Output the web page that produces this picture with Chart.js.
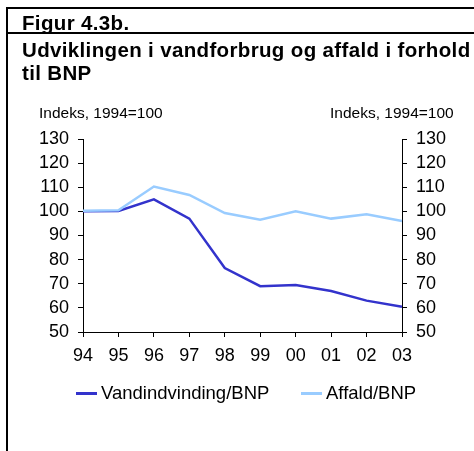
<!DOCTYPE html>
<html>
<head>
<meta charset="utf-8">
<script src="https://cdn.jsdelivr.net/npm/chart.js@4"></script>
<style>
  html, body { margin: 0; padding: 0; background: #fff; }
  body { width: 474px; height: 451px; position: relative; overflow: hidden;
         font-family: Arial, "Liberation Sans", sans-serif; color: #000; }
  #chart { position: absolute; left: 0; top: 0; }
  .hline { position: absolute; left: 6px; width: 470px; height: 2px; background: #000; }
  .vline { position: absolute; left: 6px; top: 7px; width: 2px; height: 450px; background: #000; }
  .titel { position: absolute; left: 22px; font-weight: bold; font-size: 20.5px;
           letter-spacing: 0.35px; line-height: 23px; white-space: nowrap; }
  .indeks { position: absolute; top: 104px; font-size: 15.5px; line-height: 18px; white-space: nowrap; }
  .leg { position: absolute; top: 382px; font-size: 18.5px; line-height: 22px; white-space: nowrap; }
  .leg span { display: inline-block; width: 21px; height: 3px; vertical-align: middle;
              margin-right: 4px; position: relative; top: -1px; }
</style>
</head>
<body>
<canvas id="chart" width="474" height="451"></canvas>
<div class="hline" style="top:7px"></div>
<div class="hline" style="top:32px"></div>
<div class="vline"></div>
<div class="titel" style="top:11px">Figur 4.3b.</div>
<div class="titel" style="top:38px">Udviklingen i vandforbrug og affald i forhold<br>til BNP</div>
<div class="indeks" style="left:39px">Indeks, 1994=100</div>
<div class="indeks" style="left:330px">Indeks, 1994=100</div>
<div id="legende"></div>
<script>
// år (akse-labels)
const aar = ['94', '95', '96', '97', '98', '99', '00', '01', '02', '03'];

// Indeks, 1994=100
const vandindvinding = [100, 100.2, 105, 97, 76.5, 69, 69.5, 67, 63, 60.5];
const affald = [100.3, 100.5, 110.3, 106.8, 99.3, 96.5, 100, 97, 98.8, 96];

const yMin = 50;
const yMax = 130;
const yStep = 10;

const navne = ['Vandindvinding/BNP', 'Affald/BNP'];
const farver = ['#3333CC', '#99CCFF'];

const tickFont = { family: 'Arial, "Liberation Sans", sans-serif', size: 18 };

const yAkse = function(pos) {
    return {
        position: pos,
        min: yMin,
        max: yMax,
        ticks: { stepSize: yStep, autoSkip: false, color: '#000', font: tickFont, padding: 9 },
        grid: { drawOnChartArea: false, drawTicks: true, tickLength: 5, color: '#000' },
        border: { color: '#000', width: 1 },
        afterFit: function(scale) {
            scale.width = pos === 'left' ? 83 : 72;
        }
    };
};

new Chart(document.getElementById('chart'), {
    type: 'line',
    data: {
        labels: aar,
        datasets: [{
            label: navne[0],
            data: vandindvinding,
            borderColor: farver[0],
            backgroundColor: farver[0],
            borderWidth: 2.5,
            pointRadius: 0,
            tension: 0,
            order: 1,
            yAxisID: 'y'
        }, {
            label: navne[1],
            data: affald,
            borderColor: farver[1],
            backgroundColor: farver[1],
            borderWidth: 2.5,
            pointRadius: 0,
            tension: 0,
            order: 0,
            yAxisID: 'y'
        }]
    },
    options: {
        responsive: false,
        animation: false,
        events: [],
        layout: { padding: { left: 0, right: 0, top: 139, bottom: 80 } },
        plugins: {
            legend: { display: false },
            tooltip: { enabled: false }
        },
        scales: {
            x: {
                offset: false,
                ticks: { color: '#000', font: tickFont, padding: 8, maxRotation: 0, autoSkip: false },
                grid: { drawOnChartArea: false, drawTicks: true, tickLength: 5, color: '#000' },
                border: { color: '#000', width: 1 },
                afterFit: function(scale) { scale.height = 39; }
            },
            y: yAkse('left'),
            y2: yAkse('right')
        }
    }
});

// Forklaring (legend) under grafen
const legende = document.getElementById('legende');
const legPos = [76, 301];
navne.forEach(function(navn, i) {
    const d = document.createElement('div');
    d.className = 'leg';
    d.style.left = legPos[i] + 'px';
    d.innerHTML = '<span style="background:' + farver[i] + '"></span>' + navn;
    legende.appendChild(d);
});
</script>
</body>
</html>
